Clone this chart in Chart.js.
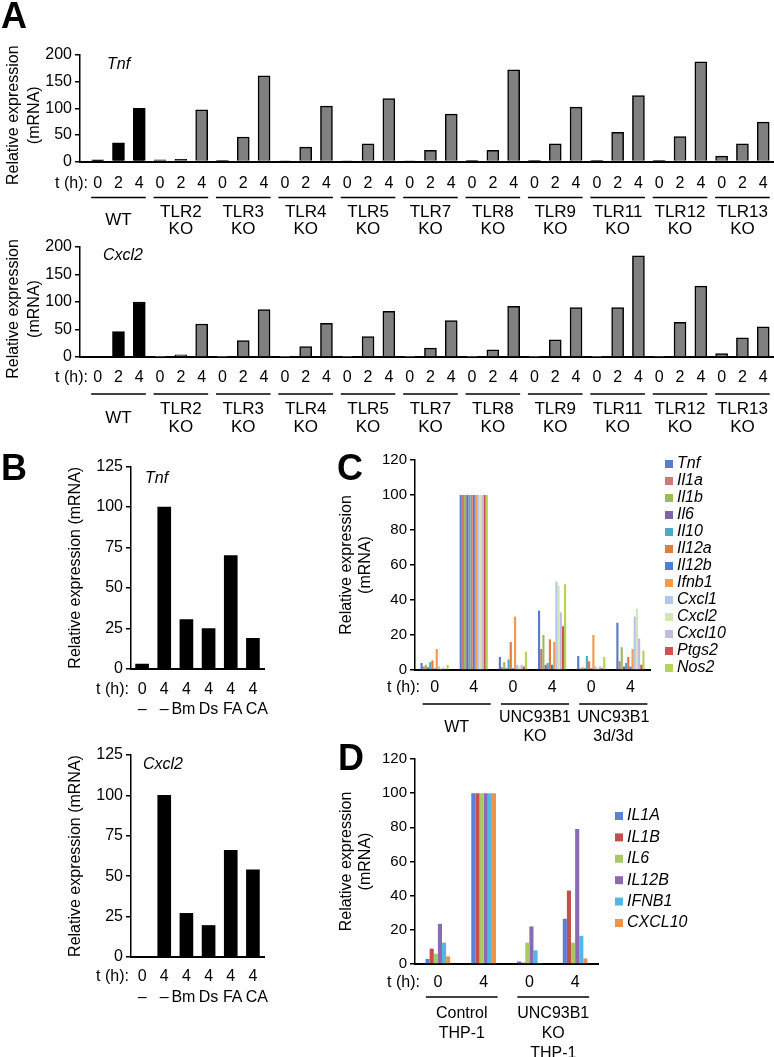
<!DOCTYPE html>
<html>
<head>
<meta charset="utf-8">
<script src="https://cdn.jsdelivr.net/npm/chart.js@4.4.1/dist/chart.umd.min.js"></script>
<style>
html, body { margin: 0; padding: 0; background: #fff; }
#page { position: relative; width: 774px; height: 1057px; overflow: hidden; }
#page canvas { position: absolute; }
</style>
</head>
<body>
<div id="page"></div>
<script>
// ---- panel A ----
const groupsA = ['WT', 'TLR2 KO', 'TLR3 KO', 'TLR4 KO', 'TLR5 KO', 'TLR7 KO', 'TLR8 KO', 'TLR9 KO', 'TLR11 KO', 'TLR12 KO', 'TLR13 KO'];
const timesA = ['0', '2', '4'];
const tnfA = [3, 35, 100, 3, 4, 97, 2, 46, 161, 1, 27, 104, 1, 33, 118, 1, 21, 89, 2, 21, 172, 2, 33, 102, 2, 55, 124, 2, 47, 187, 10, 33, 74];
const cxcl2A = [1, 46, 100, 0.5, 4, 60, 0.5, 30, 86, 0.3, 19, 61, 0.5, 37, 83, 0.3, 16, 66, 0.3, 13, 92, 0.3, 31, 90, 0.3, 90, 184, 1, 63, 129, 6, 35, 55];

// ---- panel B ----
const timesB = ['0', '4', '4', '4', '4', '4'];
const treatB = ['\u2013', '\u2013', 'Bm', 'Ds', 'FA', 'CA'];
const tnfB = [3, 100, 30.5, 25, 70, 19];
const cxcl2B = [0, 100, 27, 19.5, 66, 54];

// ---- panel C ----
const timesC = ['0', '4', '0', '4', '0', '4'];
const groupsC = ['WT', 'UNC93B1 KO', 'UNC93B1 3d/3d'];
const genesC = ['Tnf', 'Il1a', 'Il1b', 'Il6', 'Il10', 'Il12a', 'Il12b', 'Ifnb1', 'Cxcl1', 'Cxcl2', 'Cxcl10', 'Ptgs2', 'Nos2'];
const cTnf = [4, 100, 7.5, 34, 8, 27];
const cIl1a = [2, 100, 1.5, 12, 1, 5];
const cIl1b = [3, 100, 4.5, 20, 1.5, 13];
const cIl6 = [1.5, 100, 1, 3, 1, 2];
const cIl10 = [4.5, 100, 6, 4, 8, 4];
const cIl12a = [5.5, 100, 16, 17.5, 5, 7.5];
const cIl12b = [1, 100, 1, 3, 1, 2];
const cIfnb1 = [12, 100, 30.5, 16, 20, 12];
const cCxcl1 = [2, 100, 3, 50.5, 2, 30.5];
const cCxcl2 = [1, 100, 2, 48, 1, 35];
const cCxcl10 = [1.5, 100, 3, 33, 2, 18];
const cPtgs2 = [0.5, 100, 2, 25, 1, 3];
const cNos2 = [3, 100, 10.5, 49, 7.5, 11];

// ---- panel D ----
const timesD = ['0', '4', '0', '4'];
const groupsD = ['Control THP-1', 'UNC93B1 KO THP-1'];
const genesD = ['IL1A', 'IL1B', 'IL6', 'IL12B', 'IFNB1', 'CXCL10'];
const dIL1A = [3, 100, 1.5, 26.5];
const dIL1B = [9, 100, 0.8, 43];
const dIL6 = [6, 100, 12.5, 12.5];
const dIL12B = [23.5, 100, 22, 79];
const dIFNB1 = [12.5, 100, 8, 16.5];
const dCXCL10 = [4.5, 100, 0.3, 3.3];

const colorsC = ['#5a7ec6', '#cc7b78', '#9bbb59', '#8064a2', '#4bacc6', '#e07b45', '#4f7fd0', '#f39a4c', '#b3c6ea', '#d4e6b5', '#c5b9dd', '#d2524f', '#b6d35a'];
const colorsD = ['#5b82d2', '#c44f4c', '#a9c765', '#8a6bb0', '#55b6e6', '#ec9548'];

const FONT = '"Liberation Sans", Arial, sans-serif';

// labels, underlines, titles, legend drawn around the plot area
// (settings hang on the canvas so Chart's option resolver leaves them alone)
const annot = {
    id: 'annot',
    afterDraw(chart) {
        const o = chart.canvas.annot;
        if (!o) return;
        const ctx = chart.ctx;
        const a = chart.chartArea;
        const xs = chart.scales.x;
        const px = i => xs.getPixelForValue(i);
        ctx.save();
        ctx.fillStyle = '#000';
        ctx.strokeStyle = '#000';

        if (o.letter) {
            ctx.font = 'bold 36px ' + FONT;
            ctx.textAlign = 'left';
            ctx.textBaseline = 'alphabetic';
            ctx.fillText(o.letter[0], o.letter[1], o.letter[2]);
        }

        // y title (rotated)
        if (o.title) {
            ctx.font = '16px ' + FONT;
            ctx.textAlign = 'center';
            ctx.textBaseline = 'middle';
            const cy = (a.top + a.bottom) / 2 + (o.title.dy || 0);
            o.title.lines.forEach((t, k) => {
                ctx.save();
                ctx.translate(a.left + o.title.xs[k], cy);
                ctx.rotate(-Math.PI / 2);
                ctx.fillText(t, 0, 0);
                ctx.restore();
            });
        }

        if (o.gene) {
            ctx.font = 'italic 16px ' + FONT;
            ctx.textAlign = 'left';
            ctx.textBaseline = 'middle';
            ctx.fillText(o.gene[0], a.left + o.gene[1], a.top + o.gene[2]);
        }

        // tick rows under the axis
        ctx.textBaseline = 'middle';
        (o.rows || []).forEach((row, r) => {
            ctx.font = (row.size || 16) + 'px ' + FONT;
            ctx.textAlign = 'center';
            row.labels.forEach((t, i) => ctx.fillText(t, px(i) + (row.shift ? row.shift[i] : 0), a.bottom + row.dy));
            if (r === 0) {
                ctx.textAlign = 'right';
                ctx.fillText('t (h):', a.left + o.tdx, a.bottom + row.dy);
            }
        });

        // group underlines and names
        if (o.groups) {
            const g = o.groups;
            ctx.lineWidth = 1.5;
            ctx.font = g.size + 'px ' + FONT;
            ctx.textAlign = 'center';
            g.names.forEach((name, k) => {
                const x0 = px(k * g.per) - g.l;
                const x1 = px(k * g.per + g.per - 1) + g.r;
                const y = a.bottom + g.ulDy;
                ctx.beginPath();
                ctx.moveTo(x0, y);
                ctx.lineTo(x1, y);
                ctx.stroke();
                const lines = name.split(' ');
                const first = g.top ? a.bottom + g.nameDy : a.bottom + g.nameDy - (lines.length - 1) * g.lh / 2;
                lines.forEach((t, j) => ctx.fillText(t, (x0 + x1) / 2, first + j * g.lh));
            });
        }

        // legend
        if (o.legend) {
            const L = o.legend;
            ctx.font = 'italic 16px ' + FONT;
            ctx.textAlign = 'left';
            ctx.textBaseline = 'middle';
            chart.data.datasets.forEach((ds, k) => {
                const y = a.top + L.dy + k * L.step;
                ctx.fillStyle = ds.backgroundColor;
                ctx.fillRect(a.right + L.dx, y - 4, 8, 8);
                ctx.fillStyle = '#000';
                ctx.fillText(ds.label, a.right + L.dx + 12, y);
            });
        }
        ctx.restore();
    }
};

function makeChart(box, area, cfg) {
    const cv = document.createElement('canvas');
    cv.width = box[2];
    cv.height = box[3];
    cv.style.left = box[0] + 'px';
    cv.style.top = box[1] + 'px';
    cv.annot = cfg.annot;
    document.getElementById('page').appendChild(cv);
    const yW = 40;
    return new Chart(cv, {
        type: 'bar',
        data: cfg.data,
        options: {
            responsive: false,
            animation: false,
            layout: {
                padding: {
                    left: area[0] - box[0] - yW,
                    top: area[1] - box[1],
                    right: box[0] + box[2] - area[2],
                    bottom: box[1] + box[3] - area[3]
                }
            },
            plugins: { legend: { display: false }, tooltip: { enabled: false } },
            scales: {
                x: Object.assign({
                    grid: { display: false },
                    border: { display: true, color: '#000', width: 2 },
                    ticks: { display: false },
                    afterFit: s => { s.height = 0; }
                }, cfg.x || {}),
                y: {
                    min: 0,
                    max: cfg.yMax,
                    afterFit: s => { s.width = yW; },
                    ticks: { stepSize: cfg.yStep, color: '#000', padding: 3, font: { family: FONT, size: cfg.tickSize || 16 } },
                    grid: { display: true, drawOnChartArea: false, drawTicks: true, tickLength: 5, color: '#000', lineWidth: 1.5 },
                    border: { display: true, color: '#000', width: 1.5 }
                }
            }
        },
        plugins: [annot]
    });
}

// ---- A ----
const rowA = tnfA.map((v, i) => timesA[i % 3]);
const fillA = tnfA.map((v, i) => i < 3 ? '#000' : '#808080');
function datasetA(vals) {
    return {
        data: vals.map((v, i) => ({ x: i, y: v })),
        backgroundColor: fillA,
        borderColor: '#000',
        borderWidth: 1.5,
        barThickness: 12
    };
}
const xA = { type: 'linear', offset: false, min: -0.85, max: 32.47 };

makeChart([0, 0, 774, 245], [80, 55, 773, 161.5], {
    data: { datasets: [datasetA(tnfA)] },
    x: xA, yMax: 200, yStep: 50,
    annot: {
        letter: ['A', 1, 28],
        title: { lines: ['Relative expression', '(mRNA)'], xs: [-66, -45], dy: 7 },
        gene: ['Tnf', 27, 10],
        rows: [{ labels: rowA, dy: 22 }],
        tdx: 8,
        groups: { names: groupsA, per: 3, l: 6.5, r: 6.5, ulDy: 36, nameDy: 59, lh: 17, size: 17 }
    }
});

makeChart([0, 232, 774, 215], [80, 247, 773, 357], {
    data: { datasets: [datasetA(cxcl2A)] },
    x: xA, yMax: 200, yStep: 50,
    annot: {
        title: { lines: ['Relative expression', '(mRNA)'], xs: [-66, -45], dy: 7 },
        gene: ['Cxcl2', 23, 9],
        rows: [{ labels: rowA, dy: 21 }],
        tdx: 8,
        groups: { names: groupsA, per: 3, l: 6.5, r: 6.5, ulDy: 37, nameDy: 61.5, lh: 18, size: 17 }
    }
});

// ---- B ----
function datasetB(vals) {
    return { data: vals, backgroundColor: '#000', barThickness: 13 };
}
const shiftB = [0, 0, -3, 0, 2, 4];
makeChart([0, 440, 300, 290], [131, 466.5, 264, 669], {
    data: { labels: treatB, datasets: [datasetB(tnfB)] },
    yMax: 125, yStep: 25,
    annot: {
        letter: ['B', 1, 40],
        title: { lines: ['Relative expression (mRNA)'], xs: [-55] },
        gene: ['Tnf', 14, 12],
        rows: [{ labels: timesB, dy: 21 }, { labels: treatB, dy: 41, shift: shiftB }],
        tdx: -2
    }
});

makeChart([0, 730, 300, 300], [131, 755, 264, 957], {
    data: { labels: treatB, datasets: [datasetB(cxcl2B)] },
    yMax: 125, yStep: 25,
    annot: {
        title: { lines: ['Relative expression (mRNA)'], xs: [-55] },
        gene: ['Cxcl2', 12, 10],
        rows: [{ labels: timesB, dy: 20 }, { labels: treatB, dy: 41, shift: shiftB }],
        tdx: -2
    }
});

// ---- C ----
const valuesC = [cTnf, cIl1a, cIl1b, cIl6, cIl10, cIl12a, cIl12b, cIfnb1, cCxcl1, cCxcl2, cCxcl10, cPtgs2, cNos2];
makeChart([320, 440, 454, 315], [415, 460, 650, 670], {
    data: {
        labels: timesC,
        datasets: valuesC.map((vals, k) => ({
            label: genesC[k], data: vals, backgroundColor: colorsC[k],
            categoryPercentage: 0.72, barPercentage: 1
        }))
    },
    yMax: 120, yStep: 20, tickSize: 15,
    annot: {
        letter: ['C', 17, 40],
        title: { lines: ['Relative expression', '(mRNA)'], xs: [-68, -49] },
        rows: [{ labels: timesC, dy: 18 }],
        tdx: 5,
        groups: { names: groupsC, per: 2, l: 12, r: 17, ulDy: 34, nameDy: 57.5, lh: 19, size: 16 },
        legend: { dx: 15, dy: 4, step: 17 }
    }
});

// ---- D ----
const valuesD = [dIL1A, dIL1B, dIL6, dIL12B, dIFNB1, dCXCL10];
makeChart([320, 740, 454, 317], [415, 759, 598, 964], {
    data: {
        labels: timesD,
        datasets: valuesD.map((vals, k) => ({
            label: genesD[k], data: vals, backgroundColor: colorsD[k],
            categoryPercentage: 0.54, barPercentage: 1
        }))
    },
    yMax: 120, yStep: 20, tickSize: 15,
    annot: {
        letter: ['D', 18, 30],
        title: { lines: ['Relative expression', '(mRNA)'], xs: [-68, -49] },
        rows: [{ labels: timesD, dy: 19 }],
        tdx: 5,
        groups: { names: groupsD, per: 2, l: 12, r: 14, ulDy: 33, nameDy: 50, lh: 20, size: 16, top: true },
        legend: { dx: 17, dy: 57, step: 21.4 }
    }
});
</script>
</body>
</html>
